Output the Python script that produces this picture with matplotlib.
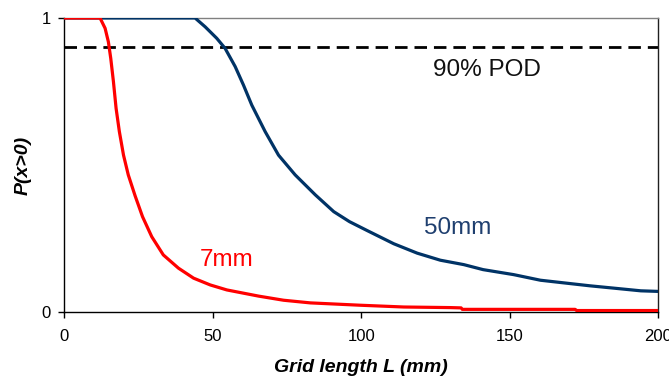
import matplotlib
matplotlib.use("Agg")
import matplotlib.pyplot as plt

plt.rcParams['font.family'] = ['Liberation Sans', 'DejaVu Sans']

# 7mm curve
red_x = [0, 12.0, 13.7, 14.8, 15.6, 16.5, 17.4, 18.5, 19.9, 21.5, 23.8, 26.3, 29.4, 33.3,
         38.4, 43.5, 49.1, 54.7, 60.3, 65.4, 73.8, 82.8, 99.7, 114.3, 130.0, 133.6, 134.0,
         172.0, 172.5, 200]
red_y = [1.0, 1.0, 0.965, 0.919, 0.863, 0.784, 0.693, 0.614, 0.534, 0.467, 0.396, 0.325,
         0.257, 0.195, 0.150, 0.116, 0.093, 0.076, 0.065, 0.055, 0.041, 0.032, 0.024, 0.018,
         0.016, 0.015, 0.010, 0.010, 0.006, 0.006]

# 50mm curve
blue_x = [0, 44.0, 47.4, 51.3, 54.1, 57.5, 60.3, 63.1, 67.6, 72.1, 77.7, 84.5, 90.7,
          96.0, 101.9, 110.9, 118.8, 126.6, 134.5, 141.0, 151.3, 160.3, 168.2, 177.0,
          185.1, 194.1, 200]
blue_y = [1.0, 1.0, 0.970, 0.931, 0.897, 0.835, 0.772, 0.704, 0.614, 0.534, 0.467, 0.399,
          0.342, 0.308, 0.278, 0.233, 0.201, 0.177, 0.162, 0.145, 0.128, 0.109, 0.100,
          0.090, 0.082, 0.073, 0.071]

pod_level = 0.9
x_ticks = [0, 50, 100, 150, 200]
y_ticks = [0, 1]

fig = plt.figure(figsize=(6.69, 3.78), dpi=100)
ax = fig.add_axes([0.0963, 0.1738, 0.8877, 0.7786])

ax.plot(blue_x, blue_y, color='#003366', lw=2.3, solid_joinstyle='round', zorder=3)
ax.plot(red_x, red_y, color='#FF0000', lw=2.3, solid_joinstyle='round', zorder=3)
ax.axhline(pod_level, color='black', lw=2.0, dashes=(4.5, 2.5), zorder=2)

ax.text(142.4, 0.823, '90% POD', fontsize=17.5, ha='center', va='center', color='#111111')
ax.text(132.3, 0.285, '50mm', fontsize=17.5, ha='center', va='center', color='#1F3F6F')
ax.text(54.5, 0.177, '7mm', fontsize=17.5, ha='center', va='center', color='#FF0000')

ax.set_xlim(0, 200)
ax.set_ylim(0, 1)
ax.set_xticks(x_ticks)
ax.set_yticks(y_ticks)
ax.set_xticklabels([str(v) for v in x_ticks])
ax.set_yticklabels([str(v) for v in y_ticks])
ax.tick_params(axis='both', labelsize=12, direction='out', length=4, width=1, colors='black', pad=8)
ax.tick_params(axis='y', pad=6)

for side in ['left', 'bottom']:
    ax.spines[side].set_color('black')
    ax.spines[side].set_linewidth(1.0)
ax.spines['top'].set_color('#808080')
ax.spines['top'].set_linewidth(1.0)
ax.spines['right'].set_color('#202020')
ax.spines['right'].set_linewidth(1.0)

ax.set_xlabel('Grid length L (mm)', fontsize=14, fontweight='bold', fontstyle='italic', labelpad=11)
ax.set_ylabel('P(x>0)', fontsize=14, fontweight='bold', fontstyle='italic', labelpad=7)

fig.savefig('out.png', dpi=100)
